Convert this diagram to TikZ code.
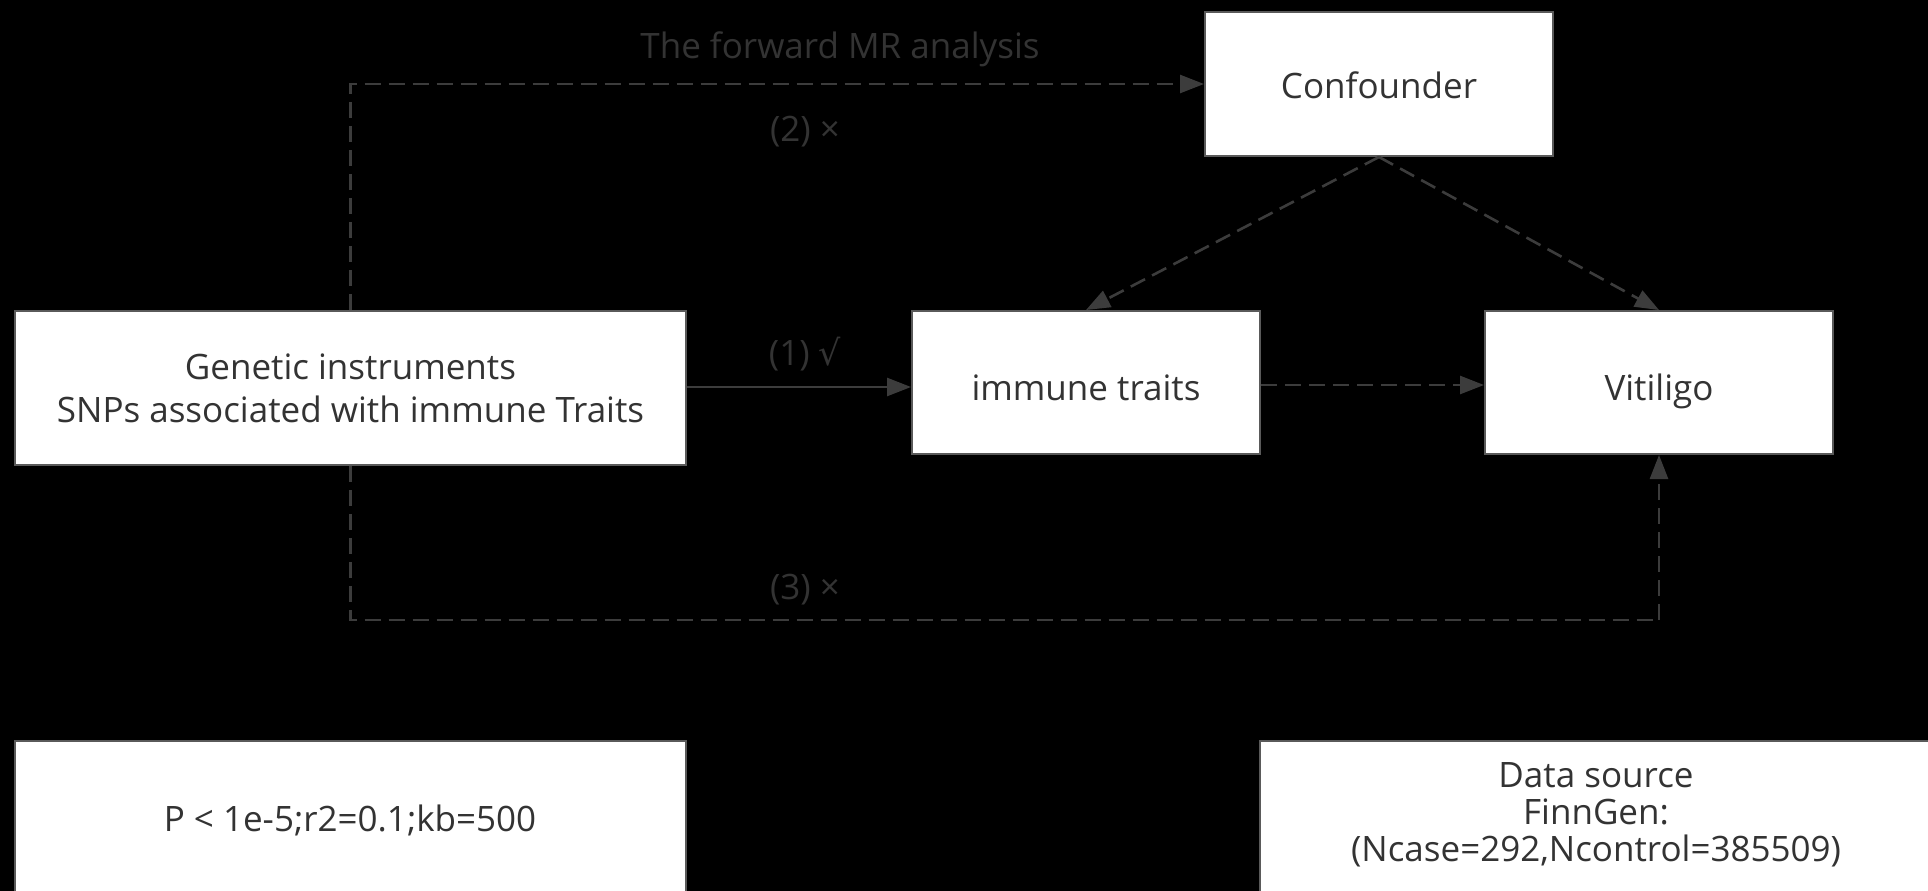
\documentclass[tikz,border=0pt]{standalone}
\usepackage{fontspec}
\setmainfont{Open Sans}
\newfontfamily\dvfont{DejaVu Sans}
\usetikzlibrary{arrows.meta}
\definecolor{linegray}{HTML}{3C3C3C}
\definecolor{txtgray}{HTML}{333333}
\definecolor{edgegray}{HTML}{5A5A5A}
\tikzset{
  box/.style={draw=edgegray, line width=2pt, fill=white, text=txtgray, align=center,
    font=\fontsize{35}{43}\selectfont, inner sep=0pt},
  lbl/.style={text=txtgray, font=\fontsize{35}{40}\selectfont, inner sep=0pt},
  conn/.style={draw=linegray, line width=2.6pt, -{Triangle[length=24pt,width=18pt]}},
  dconn/.style={conn, dash pattern=on 16pt off 8pt},
}
\begin{document}
\begin{tikzpicture}[x=1pt,y=-1pt]
\fill[black] (0,0) rectangle (1928,891);
\useasboundingbox (0,0) rectangle (1928,891);
\clip (0,0) rectangle (1928,891);
% boxes
\node[box, minimum width=348pt, minimum height=144pt] (conf) at (1379,84) {\rule{0pt}{30pt}Confounder};
\node[box, minimum width=671pt, minimum height=154pt] (gen) at (350.5,388) {Genetic instruments\\SNPs associated with immune Traits};
\node[box, minimum width=348pt, minimum height=143pt] (imm) at (1086,382.5) {\rule{0pt}{37pt}immune traits};
\node[box, minimum width=348pt, minimum height=143pt] (vit) at (1659,382.5) {\rule{0pt}{44pt}Vitiligo};
\node[box, minimum width=671pt, minimum height=180pt] (pbox) at (350.5,831) {};
\node[inner sep=0pt, text=txtgray, font=\fontsize{35}{43}\selectfont] (ptxt) at (350,820) {P < 1e-5;r2=0.1;kb=500};
\node[box, minimum width=672pt, minimum height=180pt] (ds) at (1596,831) {};
\node[align=center, text=txtgray, font=\fontsize{35}{37}\selectfont, inner sep=0pt] (dstxt) at (1596,815) {Data source\\FinnGen:\\(Ncase=292,Ncontrol=385509)};
% labels
\node[lbl] (lblfwd) at (840,49) {The forward MR analysis};
\node[lbl] (lbl2) at (805,132) {(2) ×};
\node[lbl] (lbl1) at (805,354) {(1) {\dvfont √}};
\node[lbl] (lbl3) at (805,590) {(3) ×};
% connectors
\coordinate (c3) at (1659,620);
\draw[dconn] (gen.north) |- (conf.west);
\draw[conn] (gen.east |- 0,387) -- (imm.west |- 0,387);
\draw[dconn] (imm.east |- 0,385) -- (vit.west |- 0,385);
\draw[dconn] (conf.south) -- (imm.north);
\draw[dconn] (conf.south) -- (vit.north);
\draw[dconn, -] (gen.south) |- (c3);
\draw[dconn] (c3) -- (vit.south);
\end{tikzpicture}
\end{document}
